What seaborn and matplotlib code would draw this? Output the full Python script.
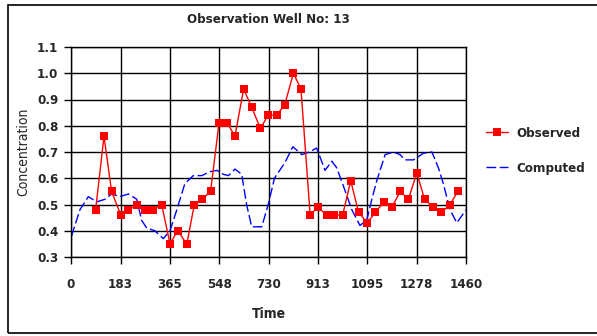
import matplotlib
matplotlib.use('Agg')
import matplotlib.pyplot as plt
import seaborn as sns
import pandas as pd
from matplotlib.patches import Rectangle

# Data
obs_days = [91, 122, 150, 184, 212, 245, 274, 304, 335, 366, 394, 428, 456, 485, 516,
            547, 578, 606, 638, 668, 700, 729, 760, 790, 822, 850, 884, 912, 945, 973,
            1004, 1034, 1063, 1095, 1125, 1157, 1186, 1217, 1247, 1278, 1307, 1339, 1369, 1401, 1430]
obs_vals = [0.48, 0.76, 0.55, 0.46, 0.48, 0.50, 0.48, 0.48, 0.50, 0.35, 0.40, 0.35, 0.50, 0.52, 0.55,
            0.81, 0.81, 0.76, 0.94, 0.87, 0.79, 0.84, 0.84, 0.88, 1.00, 0.94, 0.46, 0.49, 0.46, 0.46,
            0.46, 0.59, 0.47, 0.43, 0.47, 0.51, 0.49, 0.55, 0.52, 0.62, 0.52, 0.49, 0.47, 0.50, 0.55]

comp_days = [2, 33, 64, 95, 126, 150, 181, 212, 243, 261,
             280, 310, 341, 366, 388, 421, 452, 483, 514, 539,
             563, 582, 606, 631, 649, 668, 705, 729, 752, 791,
             820, 853, 881, 908, 939, 964, 982, 1007, 1038, 1068,
             1093, 1112, 1130, 1161, 1192, 1216, 1235, 1266, 1302, 1334,
             1358, 1376, 1401, 1426, 1460]
comp_vals = [0.38, 0.48, 0.53, 0.51, 0.52, 0.54, 0.53, 0.54, 0.52, 0.44,
             0.41, 0.40, 0.37, 0.40, 0.47, 0.58, 0.61, 0.61, 0.625, 0.63,
             0.615, 0.61, 0.635, 0.615, 0.50, 0.415, 0.415, 0.50, 0.60, 0.66,
             0.72, 0.69, 0.70, 0.715, 0.63, 0.665, 0.64, 0.57, 0.48, 0.42,
             0.44, 0.52, 0.59, 0.69, 0.70, 0.69, 0.67, 0.67, 0.695, 0.70,
             0.64, 0.58, 0.48, 0.43, 0.48]

x_ticks = [0, 183, 365, 548, 730, 913, 1095, 1278, 1460]
y_ticks = [0.3, 0.4, 0.5, 0.6, 0.7, 0.8, 0.9, 1.0, 1.1]

obs = pd.DataFrame({'Time': obs_days, 'Concentration': obs_vals})
comp = pd.DataFrame({'Time': comp_days, 'Concentration': comp_vals})

sns.set_style('white')
plt.rcParams['font.family'] = ['DejaVu Sans']
plt.rcParams['font.stretch'] = 'condensed'

fig = plt.figure(figsize=(5.97, 3.36), dpi=100)
ax = fig.add_axes([71 / 597, 1 - 257 / 336, 395 / 597, 210 / 336])

sns.lineplot(data=comp, x='Time', y='Concentration', ax=ax, color='#0000ff',
             linewidth=1, linestyle=(0, (7, 2.5)), label='Computed')
sns.lineplot(data=obs, x='Time', y='Concentration', ax=ax, color='#ff0000',
             linewidth=1, marker='s', markersize=6, markeredgewidth=0, label='Observed')

ax.set_xlim(0, 1460)
ax.set_ylim(0.3, 1.1)
ax.set_xticks(x_ticks)
ax.set_yticks(y_ticks)
ax.set_xticklabels([str(t) for t in x_ticks], fontsize=9.5, fontweight='bold', fontstretch='condensed')
ax.set_yticklabels(['%.1f' % t for t in y_ticks], fontsize=9.5, fontweight='bold', fontstretch='condensed')
ax.grid(True, color='black', linewidth=1)
ax.set_axisbelow(True)
for side in ['left', 'bottom', 'top', 'right']:
    ax.spines[side].set_color('black')
    ax.spines[side].set_linewidth(1)
ax.tick_params(axis='both', direction='out', length=5, width=1, color='black', pad=4,
               left=True, bottom=True)
ax.tick_params(axis='x', pad=10)

ax.set_xlabel('Time', fontsize=10, fontweight='bold', fontstretch='condensed', labelpad=12)
ax.set_ylabel('Concentration', fontsize=10, fontstretch='condensed', labelpad=5)
ax.set_title('Observation Well No: 13', fontsize=9.5, fontweight='bold', fontstretch='condensed', pad=17)

handles, labels = ax.get_legend_handles_labels()
ax.legend(handles[::-1], labels[::-1], loc='center left', bbox_to_anchor=(1.02, 0.505),
          frameon=False, handlelength=1.7, handletextpad=0.6, labelspacing=1.65,
          prop={'weight': 'bold', 'size': 9.5, 'stretch': 'condensed'})

# outer frame of the figure
fig.patches.append(Rectangle((8 / 597, 3 / 336), 1.0, 1 - 8 / 336, transform=fig.transFigure,
                             fill=False, edgecolor='black', linewidth=1.2))

fig.savefig('out.png', dpi=100)
